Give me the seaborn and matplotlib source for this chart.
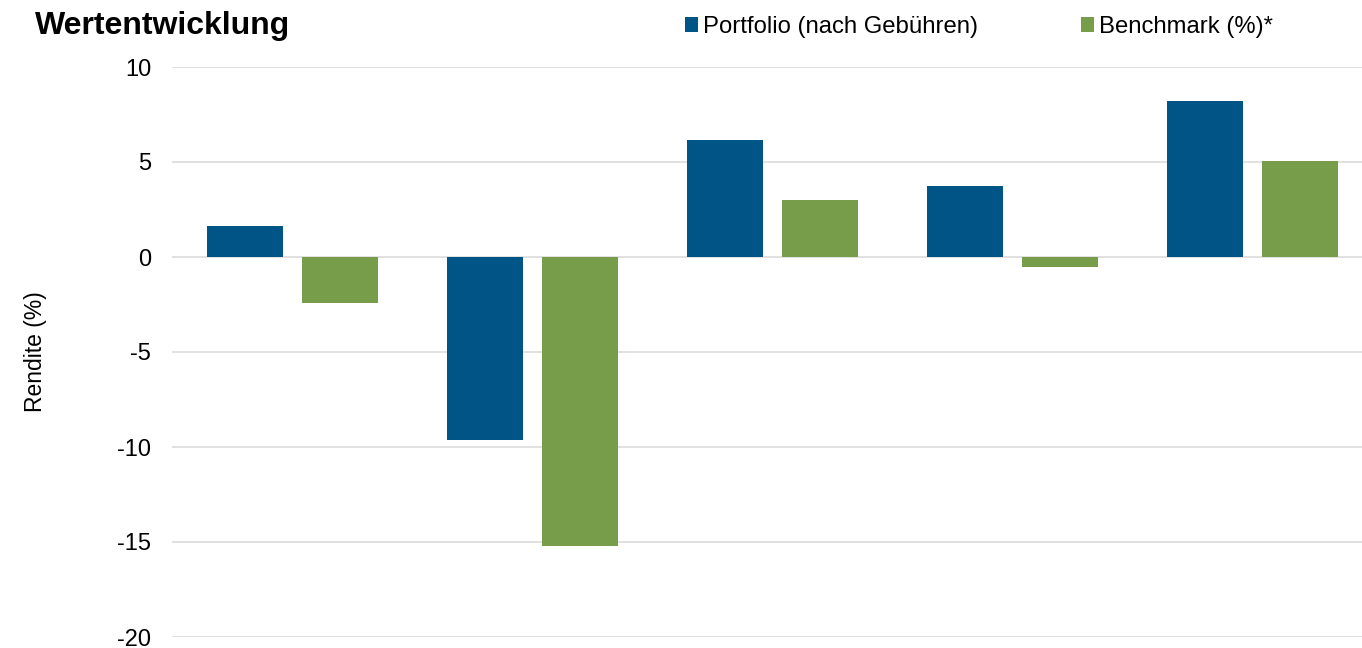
import pandas as pd
import seaborn as sns
import matplotlib.pyplot as plt
from matplotlib.patches import Patch

# values (percent)
periods = ["P1", "P2", "P3", "P4", "P5"]
portfolio = [1.65, -9.63, 6.16, 3.74, 8.21]
benchmark = [-2.42, -15.2, 3.0, -0.53, 5.05]
series_names = ["Portfolio (nach Gebühren)", "Benchmark (%)*"]
colors = ["#005587", "#789D4A"]
y_ticks = [10, 5, 0, -5, -10, -15, -20]

df = pd.DataFrame({
    "Periode": periods * 2,
    "Rendite": portfolio + benchmark,
    "Serie": [series_names[0]] * len(periods) + [series_names[1]] * len(periods),
})

sns.set_theme(style="white")
plt.rcParams["font.family"] = ["Liberation Sans", "DejaVu Sans"]
plt.rcParams["text.color"] = "black"
plt.rcParams["ytick.color"] = "black"
plt.rcParams["axes.labelcolor"] = "black"

fig = plt.figure(figsize=(13.62, 6.48), dpi=100)
ax = fig.add_axes([172 / 1362, 11 / 648, 1 - 172 / 1362, 570 / 648])

sns.barplot(data=df, x="Periode", y="Rendite", hue="Serie", palette=colors,
            width=0.79, gap=0.197, saturation=1, ax=ax, legend=False,
            edgecolor="none", zorder=3)

ax.set_ylim(-20, 10)
ax.set_xlim(-0.502, 4.456)
ax.set_yticks(y_ticks)
ax.set_yticklabels([str(t) for t in y_ticks], fontsize=17)
ax.tick_params(axis="y", length=0, pad=15)
ax.set_xticks([])
ax.set_xlabel("")
ax.set_ylabel("Rendite (%)", fontsize=16.5)
ax.yaxis.set_label_coords(-0.105, 0.5)
ax.yaxis.grid(True, color="#dedede", linewidth=1.3, zorder=0)
ax.set_axisbelow(True)
for s in ax.spines.values():
    s.set_visible(False)

fig.text(35 / 1362, 1 - 26 / 648, "Wertentwicklung", fontsize=23,
         fontweight="bold", va="center", ha="left")

handles = [Patch(facecolor=c, edgecolor="none") for c in colors]
fig.legend(handles, series_names, loc="center left",
           bbox_to_anchor=(685 / 1362, 1 - 27 / 648), ncol=2, frameon=False,
           fontsize=17.2, handlelength=0.55, handleheight=0.55, handletextpad=0.2,
           columnspacing=4.33, borderaxespad=0, borderpad=0)

fig.savefig("out.png", dpi=100)
